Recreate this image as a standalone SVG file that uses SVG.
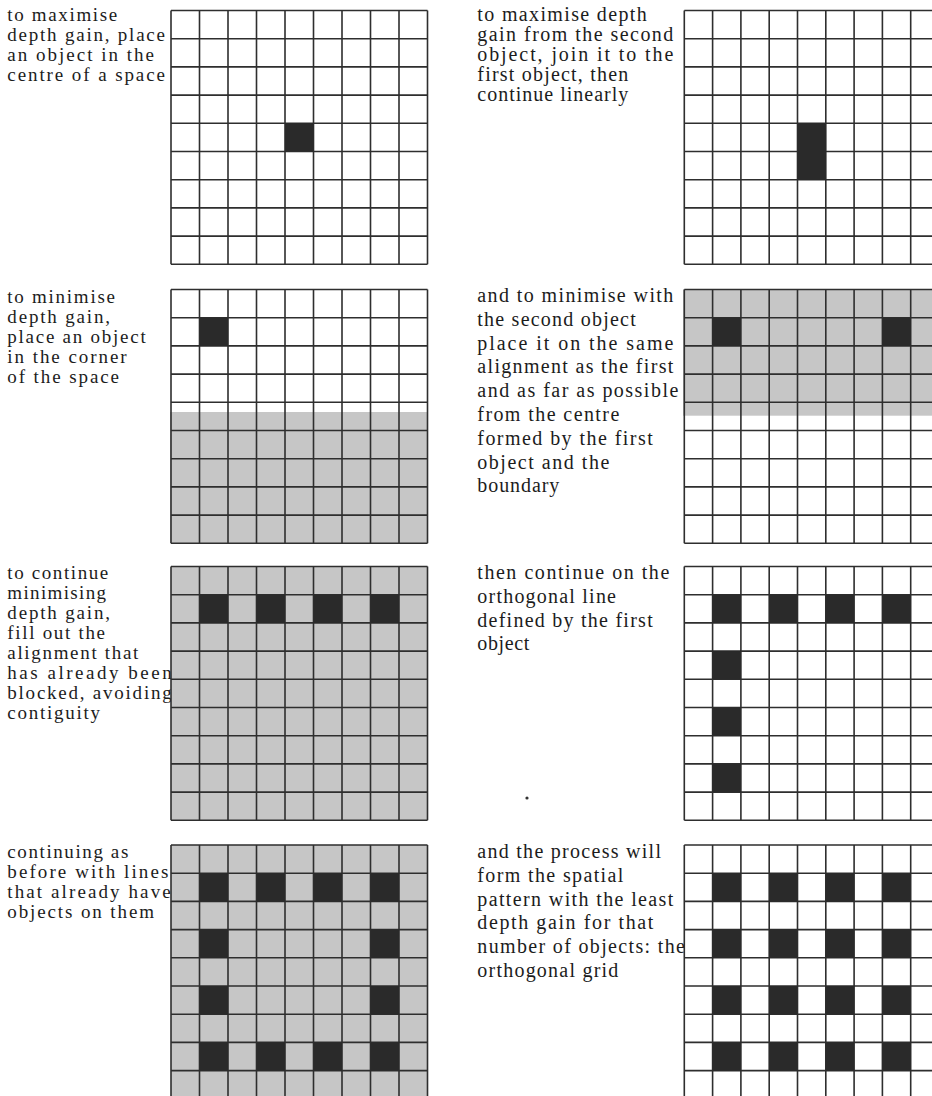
<svg xmlns="http://www.w3.org/2000/svg" xmlns:xlink="http://www.w3.org/1999/xlink" width="932" height="1096" viewBox="0 0 932 1096">
<style>
.bg{fill:#ffffff}
.grey{fill:#c6c6c6}
.ln{fill:none;stroke:#2e2e2e;stroke-width:1.6}
.obj{fill:#2a2a2a}
.tl{font-family:"Liberation Serif","Times New Roman",serif;font-size:19px;fill:#1c1c1c}
.tr{font-family:"Liberation Serif","Times New Roman",serif;font-size:20px;fill:#1c1c1c}
</style>
<defs>
<path id="gridL" class="ln" d="M0,0V253.8M28.5,0V253.8M57,0V253.8M85.5,0V253.8M114,0V253.8M142.5,0V253.8M171,0V253.8M199.5,0V253.8M228,0V253.8M256.5,0V253.8M0,0H256.5M0,28.2H256.5M0,56.4H256.5M0,84.6H256.5M0,112.8H256.5M0,141H256.5M0,169.2H256.5M0,197.4H256.5M0,225.6H256.5M0,253.8H256.5"/>
<path id="gridR" class="ln" d="M0,0V253.8M28.3,0V253.8M56.6,0V253.8M84.9,0V253.8M113.2,0V253.8M141.5,0V253.8M169.8,0V253.8M198.1,0V253.8M226.4,0V253.8M254.7,0V253.8M0,0H254.7M0,28.2H254.7M0,56.4H254.7M0,84.6H254.7M0,112.8H254.7M0,141H254.7M0,169.2H254.7M0,197.4H254.7M0,225.6H254.7M0,253.8H254.7"/>
</defs>
<rect class="bg" x="0" y="0" width="932" height="1096"/>

<!-- Row 1 -->
<g id="text-max1" class="tl">
<text x="7.3" y="20.5" textLength="110">to maximise</text>
<text x="7.3" y="40.5" textLength="157.7">depth gain, place</text>
<text x="7.3" y="60.5" textLength="146.7">an object in the</text>
<text x="7.3" y="80.5" textLength="157.7">centre of a space</text>
</g>
<g id="grid-max1" transform="translate(171,10.5)">
<use xlink:href="#gridL"/>
<rect class="obj" x="114" y="112.8" width="28.5" height="28.2"/>
</g>

<g id="text-max2" class="tr">
<text x="477.3" y="20.5" textLength="169.4">to maximise depth</text>
<text x="477.3" y="40.7" textLength="196">gain from the second</text>
<text x="477.3" y="60.9" textLength="196">object, join it to the</text>
<text x="477.3" y="81.1" textLength="151">first object, then</text>
<text x="477.3" y="101.3" textLength="151">continue linearly</text>
</g>
<g id="grid-max2" transform="translate(684.3,10.5)">
<use xlink:href="#gridR"/>
<rect class="obj" x="113.2" y="112.8" width="28.3" height="56.4"/>
</g>

<!-- Row 2 -->
<g id="text-min1" class="tl">
<text x="7.3" y="303" textLength="107.7">to minimise</text>
<text x="7.3" y="323" textLength="102.7">depth gain,</text>
<text x="7.3" y="343" textLength="138.4">place an object</text>
<text x="7.3" y="363" textLength="119.4">in the corner</text>
<text x="7.3" y="383" textLength="111.7">of the space</text>
</g>
<g id="grid-min1" transform="translate(171,289.5)">
<rect class="grey" x="-1" y="122.5" width="258" height="131.3"/>
<use xlink:href="#gridL"/>
<rect class="obj" x="28.5" y="28.2" width="28.5" height="28.2"/>
</g>

<g id="text-min2" class="tr">
<text x="477.3" y="302" textLength="196">and to minimise with</text>
<text x="477.3" y="325.8" textLength="158.4">the second object</text>
<text x="477.3" y="349.6" textLength="196">place it on the same</text>
<text x="477.3" y="373.4" textLength="196">alignment as the first</text>
<text x="477.3" y="397.2" textLength="201">and as far as possible</text>
<text x="477.3" y="421" textLength="142">from the centre</text>
<text x="477.3" y="444.8" textLength="175.4">formed by the first</text>
<text x="477.3" y="468.6" textLength="132">object and the</text>
<text x="477.3" y="492.4" textLength="82">boundary</text>
</g>
<g id="grid-min2" transform="translate(684.3,289.5)">
<rect class="grey" x="-1.3" y="0" width="250" height="126.2"/>
<use xlink:href="#gridR"/>
<rect class="obj" x="28.3" y="28.2" width="28.3" height="28.2"/>
<rect class="obj" x="198.1" y="28.2" width="28.3" height="28.2"/>
</g>

<!-- Row 3 -->
<g id="text-cont1" class="tl">
<text x="7.3" y="579" textLength="101">to continue</text>
<text x="7.3" y="599" textLength="98.7">minimising</text>
<text x="7.3" y="619" textLength="102.7">depth gain,</text>
<text x="7.3" y="639" textLength="97.7">fill out the</text>
<text x="7.3" y="659" textLength="131">alignment that</text>
<text x="7.3" y="679" textLength="164.4">has already been</text>
<text x="7.3" y="699" textLength="164.4">blocked, avoiding</text>
<text x="7.3" y="719" textLength="92.7">contiguity</text>
</g>
<g id="grid-cont1" transform="translate(171,566.5)">
<rect class="grey" x="0" y="0" width="256.5" height="253.8"/>
<use xlink:href="#gridL"/>
<rect class="obj" x="28.5" y="28.2" width="28.5" height="28.2"/>
<rect class="obj" x="85.5" y="28.2" width="28.5" height="28.2"/>
<rect class="obj" x="142.5" y="28.2" width="28.5" height="28.2"/>
<rect class="obj" x="199.5" y="28.2" width="28.5" height="28.2"/>
</g>

<g id="text-cont2" class="tr">
<text x="477.3" y="579" textLength="192">then continue on the</text>
<text x="477.3" y="602.8" textLength="138.7">orthogonal line</text>
<text x="477.3" y="626.6" textLength="175.4">defined by the first</text>
<text x="477.3" y="650.4" textLength="52">object</text>
</g>
<g id="grid-cont2" transform="translate(684.3,566.5)">
<use xlink:href="#gridR"/>
<rect class="obj" x="28.3" y="28.2" width="28.3" height="28.2"/>
<rect class="obj" x="84.9" y="28.2" width="28.3" height="28.2"/>
<rect class="obj" x="141.5" y="28.2" width="28.3" height="28.2"/>
<rect class="obj" x="198.1" y="28.2" width="28.3" height="28.2"/>
<rect class="obj" x="28.3" y="84.6" width="28.3" height="28.2"/>
<rect class="obj" x="28.3" y="141" width="28.3" height="28.2"/>
<rect class="obj" x="28.3" y="197.4" width="28.3" height="28.2"/>
</g>

<circle cx="527" cy="798" r="1.6" fill="#333"/>

<!-- Row 4 -->
<g id="text-cont3" class="tl">
<text x="7.3" y="858" textLength="121">continuing as</text>
<text x="7.3" y="878" textLength="161">before with lines</text>
<text x="7.3" y="898" textLength="163.4">that already have</text>
<text x="7.3" y="918" textLength="146.7">objects on them</text>
</g>
<g id="grid-cont3" transform="translate(171,845)">
<rect class="grey" x="0" y="0" width="256.5" height="253.8"/>
<use xlink:href="#gridL"/>
<rect class="obj" x="28.5" y="28.2" width="28.5" height="28.2"/>
<rect class="obj" x="85.5" y="28.2" width="28.5" height="28.2"/>
<rect class="obj" x="142.5" y="28.2" width="28.5" height="28.2"/>
<rect class="obj" x="199.5" y="28.2" width="28.5" height="28.2"/>
<rect class="obj" x="28.5" y="84.6" width="28.5" height="28.2"/>
<rect class="obj" x="199.5" y="84.6" width="28.5" height="28.2"/>
<rect class="obj" x="28.5" y="141" width="28.5" height="28.2"/>
<rect class="obj" x="199.5" y="141" width="28.5" height="28.2"/>
<rect class="obj" x="28.5" y="197.4" width="28.5" height="28.2"/>
<rect class="obj" x="85.5" y="197.4" width="28.5" height="28.2"/>
<rect class="obj" x="142.5" y="197.4" width="28.5" height="28.2"/>
<rect class="obj" x="199.5" y="197.4" width="28.5" height="28.2"/>
</g>

<g id="text-grid" class="tr">
<text x="477.3" y="858" textLength="183.7">and the process will</text>
<text x="477.3" y="881.8" textLength="146">form the spatial</text>
<text x="477.3" y="905.6" textLength="196">pattern with the least</text>
<text x="477.3" y="929.4" textLength="176">depth gain for that</text>
<text x="477.3" y="953.2" textLength="207.7">number of objects: the</text>
<text x="477.3" y="977" textLength="141">orthogonal grid</text>
</g>
<g id="grid-grid" transform="translate(684.3,845)">
<use xlink:href="#gridR"/>
<rect class="obj" x="28.3" y="28.2" width="28.3" height="28.2"/>
<rect class="obj" x="84.9" y="28.2" width="28.3" height="28.2"/>
<rect class="obj" x="141.5" y="28.2" width="28.3" height="28.2"/>
<rect class="obj" x="198.1" y="28.2" width="28.3" height="28.2"/>
<rect class="obj" x="28.3" y="84.6" width="28.3" height="28.2"/>
<rect class="obj" x="84.9" y="84.6" width="28.3" height="28.2"/>
<rect class="obj" x="141.5" y="84.6" width="28.3" height="28.2"/>
<rect class="obj" x="198.1" y="84.6" width="28.3" height="28.2"/>
<rect class="obj" x="28.3" y="141" width="28.3" height="28.2"/>
<rect class="obj" x="84.9" y="141" width="28.3" height="28.2"/>
<rect class="obj" x="141.5" y="141" width="28.3" height="28.2"/>
<rect class="obj" x="198.1" y="141" width="28.3" height="28.2"/>
<rect class="obj" x="28.3" y="197.4" width="28.3" height="28.2"/>
<rect class="obj" x="84.9" y="197.4" width="28.3" height="28.2"/>
<rect class="obj" x="141.5" y="197.4" width="28.3" height="28.2"/>
<rect class="obj" x="198.1" y="197.4" width="28.3" height="28.2"/>
</g>
</svg>
